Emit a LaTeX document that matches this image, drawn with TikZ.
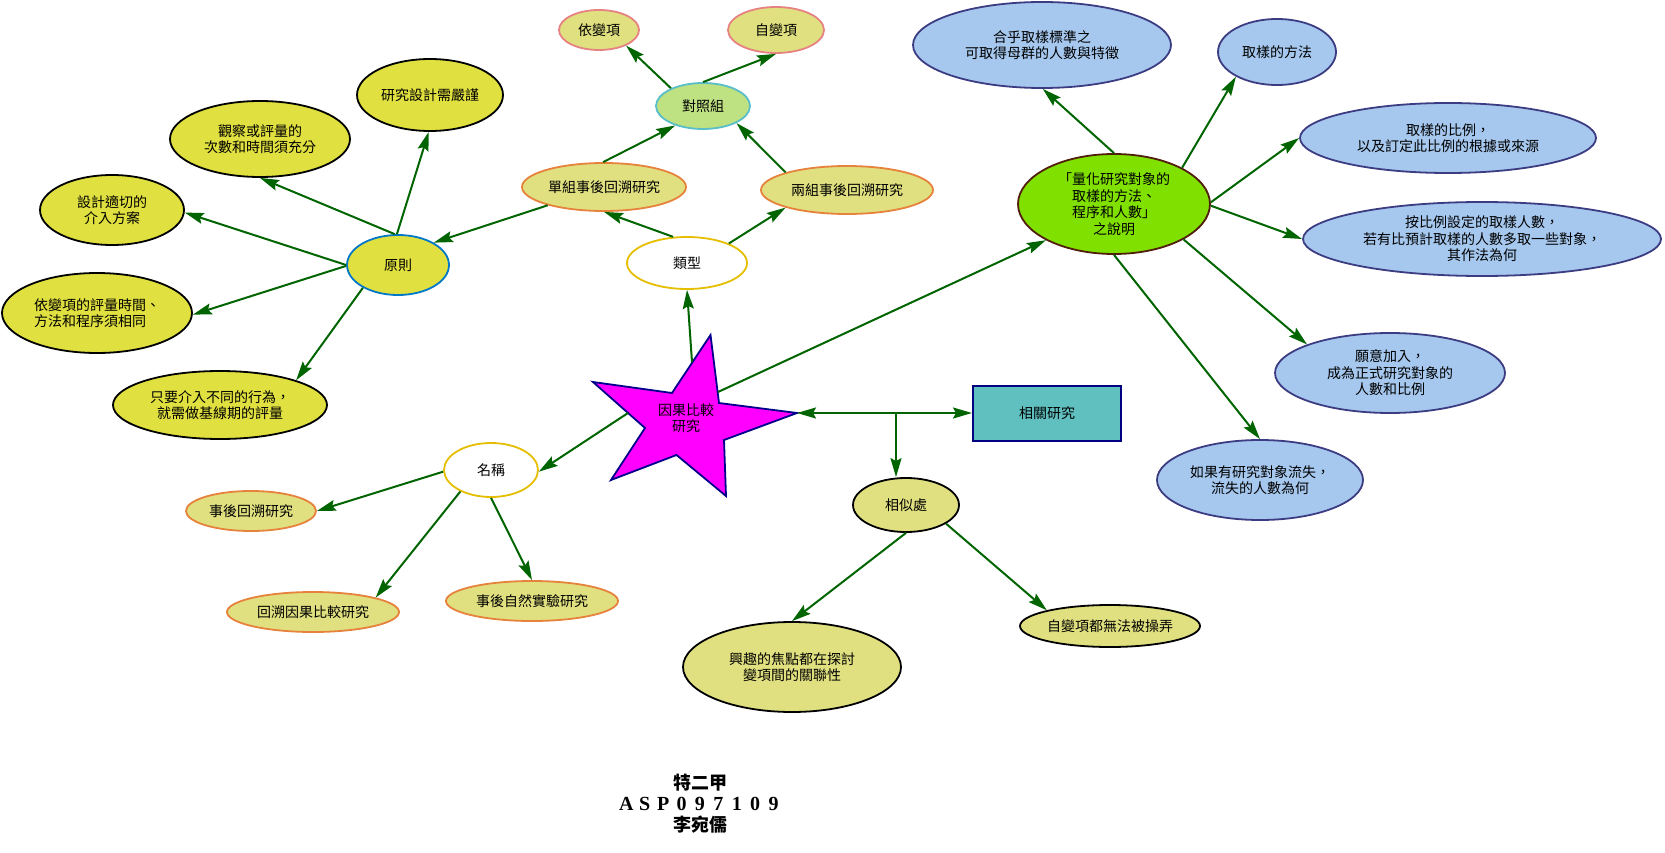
\documentclass[tikz,border=0pt]{standalone}
\usepackage{fontspec}
\setmainfont{Liberation Serif}
\newfontfamily\cjk{Noto Sans CJK TC}
\usetikzlibrary{shapes.geometric,arrows.meta}
\definecolor{ylw}{RGB}{224,224,64}
\definecolor{khaki}{RGB}{224,224,128}
\definecolor{pinkb}{RGB}{230,130,130}
\definecolor{orangeb}{RGB}{230,130,60}
\definecolor{goldb}{RGB}{230,190,0}
\definecolor{ltgreen}{RGB}{190,225,130}
\definecolor{cyanb}{RGB}{90,190,200}
\definecolor{blueb}{RGB}{0,120,200}
\definecolor{skyf}{RGB}{166,200,238}
\definecolor{navyb}{RGB}{60,60,130}
\definecolor{limef}{RGB}{128,224,0}
\definecolor{brownb}{RGB}{80,30,10}
\definecolor{magf}{RGB}{255,0,255}
\definecolor{starb}{RGB}{0,0,140}
\definecolor{tealf}{RGB}{96,192,192}
\definecolor{rectb}{RGB}{0,0,128}
\definecolor{arrowc}{RGB}{0,100,0}
\newcommand\fwc[1]{\makebox[18.4pt]{#1}}
\begin{document}
\begin{tikzpicture}[x=1pt,y=-1pt,
  every node/.style={font=\cjk\fontsize{14}{16.5}\selectfont, align=center, inner sep=0pt, text=black},
  ell/.style={ellipse, draw, line width=1.8pt},
  yel/.style={ell, fill=ylw, draw=black},
  kha/.style={ell, fill=khaki, draw=black},
  khapink/.style={ell, fill=khaki, draw=pinkb},
  khaor/.style={ell, fill=khaki, draw=orangeb},
  wht/.style={ell, fill=white, draw=goldb},
  sky/.style={ell, fill=skyf, draw=navyb},
  conn/.style={draw=arrowc, line width=2pt, -{Stealth[length=19pt,width=11pt,inset=3pt]}},
  conn2/.style={draw=arrowc, line width=2pt, {Stealth[length=19pt,width=11pt,inset=3pt]}-{Stealth[length=19pt,width=11pt,inset=3pt]}}
]
\useasboundingbox (0,0) rectangle (1665,853);

% left cluster
\node[yel, minimum width=146, minimum height=72] (yan) at (430,95) {研究設計需嚴謹};
\node[yel, minimum width=180, minimum height=76] (guan) at (260,139) {觀察或評量的\\次數和時間須充分};
\node[yel, minimum width=144, minimum height=70] (sheji) at (112,210) {設計適切的\\介入方案};
\node[yel, minimum width=190, minimum height=80, align=left] (yibian) at (97,313) {依變項的評量時間、\\方法和程序須相同};
\node[yel, minimum width=214, minimum height=68] (zhiyao) at (220,405) {只要介入不同的行為，\\就需做基線期的評量};
\node[yel, draw=blueb, minimum width=102, minimum height=60] (yuanze) at (398,265) {原則};

% top middle
\node[khapink, minimum width=80, minimum height=40] (yibx) at (599,30) {依變項};
\node[khapink, minimum width=96, minimum height=46] (zibx) at (776,30) {自變項};
\node[ell, fill=ltgreen, draw=cyanb, minimum width=94, minimum height=46] (duizhao) at (703,106) {對照組};
\node[khaor, minimum width=164, minimum height=48] (danzu) at (604,187) {單組事後回溯研究};
\node[khaor, minimum width=172, minimum height=48] (liangzu) at (847,190) {兩組事後回溯研究};
\node[wht, minimum width=120, minimum height=52] (leixing) at (687,263) {類型};

% right cluster
\node[ell, fill=limef, draw=brownb, minimum width=192, minimum height=100] (green) at (1114,204) {「量化研究對象的\\取樣的方法、\\程序和人數」\\之說明};
\node[sky, minimum width=258, minimum height=86] (hefu) at (1042,45) {合乎取樣標準之\\可取得母群的人數與特徵};
\node[sky, minimum width=118, minimum height=66] (fangfa) at (1277,52) {取樣的方法};
\node[sky, minimum width=296, minimum height=70] (bili) at (1448,138) {取樣的比例，\\以及訂定此比例的根據或來源};
\node[sky, minimum width=358, minimum height=74] (anbili) at (1482,239) {按比例設定的取樣人數，\\若有比預計取樣的人數多取一些對象，\\其作法為何};
\node[sky, minimum width=230, minimum height=80] (yuanyi) at (1390,373) {願意加入，\\成為正式研究對象的\\人數和比例};
\node[sky, minimum width=206, minimum height=80] (ruguo) at (1260,480) {如果有研究對象流失，\\流失的人數為何};
\node[rectangle, draw=rectb, fill=tealf, line width=2pt, minimum width=148, minimum height=55] (xiangguan) at (1047,413) {相關研究};

% bottom
\node[wht, minimum width=94, minimum height=54] (mingcheng) at (491,470) {名稱};
\node[khaor, minimum width=130, minimum height=40] (shihou) at (251,511) {事後回溯研究};
\node[khaor, minimum width=172, minimum height=40] (huisu) at (313,612) {回溯因果比較研究};
\node[khaor, minimum width=172, minimum height=40] (ziran) at (532,601) {事後自然實驗研究};
\node[kha, minimum width=106, minimum height=54] (xiangsi) at (906,505) {相似處};
\node[kha, minimum width=218, minimum height=90] (xingqu) at (792,667) {興趣的焦點都在探討\\變項間的關聯性};
\node[kha, minimum width=180, minimum height=42] (wufa) at (1110,626) {自變項都無法被操弄};

% star
\draw[fill=magf, draw=starb, line width=1.8pt] (710.5,335) -- (719,403) -- (797,413) -- (724,440) -- (726,496) -- (676.5,455) -- (611,480) -- (645,428) -- (593,382) -- (672,393) -- cycle;
\node (star) at (686,418) {因果比較\\研究};
\coordinate (sTop) at (692,362);
\coordinate (sUR) at (718,392);
\coordinate (sL) at (628,413);
\coordinate (sR) at (797,413);
\coordinate (br) at (896,413);

% connectors left
\draw[conn] (yuanze.92) -- (yan.268);
\draw[conn] (yuanze.96) -- (guan.270);
\draw[conn] (yuanze.180) -- (sheji.358);
\draw[conn] (yuanze.181) -- (yibian.359);
\draw[conn] (yuanze.213) -- (zhiyao.18);
\draw[conn] (danzu.198) -- (yuanze.32);

% top middle
\draw[conn] (duizhao.151) -- (yibx.330);
\draw[conn] (duizhao.90) -- (zibx.270);
\draw[conn] (danzu.92) -- (duizhao.215);
\draw[conn] (liangzu.164) -- (duizhao.333);
\draw[conn] (leixing.118) -- (danzu.270);
\draw[conn] (leixing.25) -- (liangzu.196);

% star connectors
\draw[conn] (sTop) -- (leixing.270);
\draw[conn] (sUR) -- (green.208);
\draw[conn] (sL) -- (mingcheng.358);
\draw[conn2] (sR) -- (xiangguan.west);
\draw[conn] (br) -- (br |- xiangsi.north);

% right
\draw[conn] (green.90) -- (hefu.271);
\draw[conn] (green.28) -- (fangfa.211);
\draw[conn] (green.1) -- (bili.180);
\draw[conn] (green.359) -- (anbili.180);
\draw[conn] (green.333) -- (yuanyi.161);
\draw[conn] (green.270) -- (ruguo.90);

% bottom
\draw[conn] (mingcheng.182) -- (shihou.0);
\draw[conn] (mingcheng.215) -- (huisu.13);
\draw[conn] (mingcheng.270) -- (ziran.90);
\draw[conn] (xiangsi.270) -- (xingqu.90);
\draw[conn] (xiangsi.335) -- (wufa.166);

% signature
\node[font=\cjk\bfseries\fontsize{18}{20}\selectfont] (cls) at (700,783) {特二甲};
\node[font=\rmfamily\bfseries\fontsize{20}{22}\selectfont] (sid) at (700,804) {\fwc{A}\fwc{S}\fwc{P}\fwc{0}\fwc{9}\fwc{7}\fwc{1}\fwc{0}\fwc{9}};
\node[font=\cjk\bfseries\fontsize{18}{20}\selectfont] (name) at (700,825) {李宛儒};
\end{tikzpicture}
\end{document}
